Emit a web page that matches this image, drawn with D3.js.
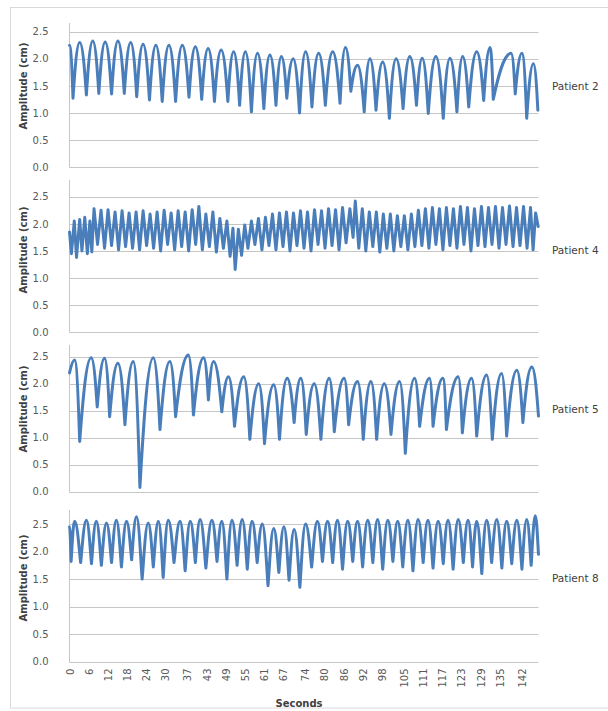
<!DOCTYPE html>
<html><head><meta charset="utf-8">
<script src="https://cdn.jsdelivr.net/npm/d3@7"></script>
<style>html,body{margin:0;padding:0;background:#fff;} svg{display:block;}</style>
</head><body>
<svg id="chart" width="608" height="711"></svg>
<script>
// ---------- DATA ----------
const patientNames = ["Patient 2", "Patient 4", "Patient 5", "Patient 8"];
const yTicks = [0, 0.5, 1.0, 1.5, 2.0, 2.5];
const xTickLabels = [0, 6, 12, 18, 24, 30, 37, 43, 49, 55, 61, 67, 74, 80, 86, 92, 98, 105, 111, 117, 123, 129, 135, 142];

const p2Time = [0,1.1,3.2,5.3,7.3,9.2,11.2,13.2,15.2,17.2,19.2,21.1,23.1,25.1,27.1,29.1,31.2,33.3,35.4,37.5,39.5,41.5,43.5,45.5,47.6,49.7,51.5,53.4,55.2,57.1,59.0,61.0,62.9,64.8,66.5,68.2,70.2,72.2,74.1,76.1,78.2,80.3,82.6,84.9,86.6,88.3,90.4,92.5,94.3,96.2,98.3,100.4,102.5,104.7,106.8,108.9,110.7,112.6,115.0,117.3,119.4,121.6,123.4,125.3,127.8,130.0,132.0,133.0,138.6,139.9,142.0,143.5,145.6,147.0];
const p2Amp = [2.25,1.27,2.30,1.33,2.33,1.36,2.31,1.35,2.33,1.36,2.30,1.30,2.27,1.24,2.25,1.21,2.25,1.21,2.25,1.29,2.22,1.25,2.19,1.21,2.16,1.21,2.13,1.14,2.13,1.02,2.10,1.08,2.07,1.14,2.04,1.27,2.00,1.00,2.13,1.11,2.10,1.14,2.13,1.18,2.21,1.40,1.88,1.02,2.00,1.05,1.94,0.90,2.00,1.08,2.04,1.14,2.01,0.99,2.04,0.90,2.01,1.02,2.04,1.11,2.13,1.23,2.21,1.25,2.10,1.35,2.10,0.90,1.91,1.05];

const p4Time = [0,0.6,1.5,2.2,3.2,3.9,4.8,5.6,6.4,7.0,7.7,8.8,9.9,11.0,12.1,13.2,14.3,15.4,16.5,17.6,18.7,19.8,20.9,22.0,23.1,24.2,25.3,26.4,27.5,28.6,29.7,30.8,31.9,33.0,34.1,35.2,36.3,37.4,38.5,39.6,40.6,41.7,42.8,43.9,45.0,46.1,47.2,48.3,49.4,50.4,51.3,52.0,53.0,54.0,55.0,56.0,57.1,58.2,59.3,60.4,61.5,62.6,63.7,64.8,65.9,67.0,68.1,69.2,70.3,71.4,72.5,73.6,74.7,75.8,76.9,78.0,79.1,80.2,81.3,82.4,83.5,84.6,85.7,86.8,88.0,89.0,89.7,90.8,91.9,93.0,94.1,95.2,96.3,97.4,98.5,99.6,100.7,101.8,102.9,104.0,105.1,106.2,107.3,108.4,109.5,110.6,111.7,112.8,113.9,115.0,116.1,117.2,118.3,119.4,120.5,121.6,122.7,123.8,124.9,126.0,127.1,128.2,129.3,130.4,131.5,132.6,133.7,134.8,135.9,137.0,138.1,139.2,140.3,141.4,142.5,143.6,144.7,145.5,146.3,147.1];
const p4Amp = [1.85,1.45,2.05,1.38,2.08,1.50,2.12,1.45,2.05,1.48,2.28,1.62,2.25,1.55,2.26,1.60,2.22,1.52,2.24,1.58,2.20,1.55,2.22,1.52,2.24,1.60,2.18,1.55,2.22,1.50,2.25,1.62,2.20,1.52,2.24,1.58,2.22,1.50,2.26,1.62,2.32,1.52,2.18,1.58,2.22,1.48,2.10,1.55,2.05,1.40,1.92,1.16,1.90,1.42,1.98,1.55,2.05,1.62,2.10,1.52,2.12,1.60,2.18,1.52,2.20,1.58,2.22,1.50,2.20,1.60,2.24,1.55,2.22,1.50,2.26,1.62,2.24,1.55,2.28,1.60,2.26,1.52,2.30,1.65,2.28,1.75,2.42,1.55,2.28,1.50,2.22,1.58,2.22,1.48,2.18,1.55,2.18,1.50,2.15,1.58,2.15,1.52,2.18,1.58,2.25,1.60,2.28,1.55,2.30,1.62,2.28,1.52,2.30,1.60,2.28,1.55,2.32,1.62,2.30,1.50,2.28,1.60,2.32,1.58,2.30,1.62,2.32,1.55,2.30,1.62,2.33,1.58,2.30,1.60,2.32,1.55,2.30,1.52,2.20,1.95];

const p5Time = [0,1.6,3.2,6.8,8.7,11.0,12.6,15.2,17.4,20.0,22.1,26.3,28.4,31.5,33.3,37.3,38.9,42.1,43.6,45.2,47.8,49.9,51.8,54.7,56.6,59.4,61.2,64.1,65.9,68.3,70.5,72.6,74.3,76.8,78.9,81.5,83.1,86.2,87.6,90.4,92.2,94.6,96.4,98.8,100.9,103.6,105.4,108.3,109.9,113.0,114.1,117.2,118.3,122.0,123.3,126.2,127.8,130.9,132.7,135.6,137.2,140.4,142.3,145.1,147.2];
const p5Amp = [2.20,2.44,0.93,2.48,1.57,2.47,1.39,2.38,1.24,2.41,0.08,2.48,1.15,2.41,1.39,2.53,1.42,2.48,1.70,2.41,1.48,2.13,1.21,2.13,0.97,2.00,0.89,1.98,0.97,2.10,1.28,2.10,1.06,2.00,0.97,2.10,1.11,2.10,1.24,2.04,0.97,2.04,0.97,2.00,1.06,2.04,0.71,2.10,1.21,2.10,1.21,2.10,1.15,2.13,1.09,2.10,1.03,2.16,0.97,2.19,1.03,2.25,1.28,2.31,1.40];

const p8Time = [0,0.5,1.6,3.5,5.3,6.9,8.4,10.0,11.6,13.2,14.7,16.3,17.9,19.5,21.0,22.8,24.7,26.3,27.9,29.4,31.0,32.8,34.7,36.3,37.9,39.5,41.0,42.8,44.7,46.3,47.8,49.4,51.0,52.6,54.2,55.8,57.3,58.9,60.5,62.3,64.1,65.7,67.3,68.9,70.5,72.3,74.1,76.0,77.8,79.4,81.0,82.6,84.1,85.7,87.3,88.9,90.4,92.0,93.6,95.2,96.7,98.3,99.9,101.5,103.0,104.6,106.2,107.8,109.4,111.0,112.5,114.1,115.7,117.3,118.8,120.4,122.0,123.6,125.1,126.5,127.8,129.4,130.9,132.5,134.1,135.7,137.2,138.8,140.4,142.0,143.5,144.9,146.2,147.2];
const p8Amp = [2.45,1.82,2.55,1.80,2.57,1.78,2.55,1.75,2.52,1.80,2.57,1.72,2.55,1.85,2.63,1.50,2.52,1.72,2.55,1.53,2.57,1.80,2.55,1.65,2.55,1.80,2.58,1.70,2.57,1.82,2.55,1.50,2.57,1.75,2.58,1.68,2.55,1.80,2.50,1.38,2.42,1.62,2.45,1.48,2.40,1.35,2.50,1.72,2.55,1.82,2.55,1.80,2.57,1.68,2.55,1.82,2.55,1.72,2.57,1.80,2.58,1.68,2.57,1.82,2.55,1.72,2.57,1.65,2.58,1.80,2.57,1.70,2.55,1.78,2.57,1.68,2.58,1.80,2.57,1.72,2.55,1.60,2.57,1.80,2.58,1.70,2.55,1.78,2.57,1.68,2.58,1.75,2.65,1.95];

const seriesTimes = [p2Time, p4Time, p5Time, p8Time];
const seriesAmps = [p2Amp, p4Amp, p5Amp, p8Amp];

// ---------- CURVE: rounded crests, pointed dips ----------
function CuspCurve(context, k, h) { this._context = context; this._k = k; this._h = h; }
CuspCurve.prototype = {
  areaStart() { this._line = 0; }, areaEnd() { this._line = NaN; },
  lineStart() { this._pts = []; },
  lineEnd() {
    const p = this._pts, c = this._context, k = this._k, h = this._h;
    if (!p.length) return;
    c.moveTo(p[0][0], p[0][1]);
    for (let i = 1; i < p.length; i++) {
      const a = p[i - 1], b = p[i], dx = b[0] - a[0], dy = b[1] - a[1];
      if (dy < 0) {
        c.bezierCurveTo(a[0] + dx * 0.22, a[1] + dy * k, b[0] - dx * h, b[1], b[0], b[1]);
      } else {
        c.bezierCurveTo(a[0] + dx * h, a[1], b[0] - dx * 0.22, b[1] - dy * k, b[0], b[1]);
      }
    }
  },
  point(x, y) { this._pts.push([+x, +y]); }
};
const cuspCurve = (k, h) => ctx => new CuspCurve(ctx, k, h);
const panelCurves = [cuspCurve(0.4, 0.45), d3.curveLinear, cuspCurve(0.4, 0.45), cuspCurve(0.25, 0.45)];

// ---------- LAYOUT ----------
const W = 608, H = 711;
const plotLeft = 69.5, plotRight = 538.5;
const panels = [
  { y0: 167, y25: 31.7, top: 23, mid: 86 },
  { y0: 332.3, y25: 196.7, top: 180, mid: 250 },
  { y0: 491.7, y25: 356.7, top: 345, mid: 409 },
  { y0: 661.7, y25: 524, top: 510, mid: 578 }
];
const font = "'DejaVu Sans', Verdana, sans-serif";
const lineColor = "#4a7ebb";
const gridColor = "#c6c6c6";

const svg = d3.select("#chart");
svg.append("rect").attr("width", W).attr("height", H).attr("fill", "#fff");
svg.append("rect").attr("x", 10.5).attr("y", 7.5).attr("width", 620).attr("height", 700.5)
  .attr("fill", "none").attr("stroke", "#d9d9d9");

const x = d3.scaleLinear().domain([0, 147.2]).range([plotLeft, plotRight]);

panels.forEach((P, i) => {
  const y = d3.scaleLinear().domain([0, 2.5]).range([P.y0, P.y25]);
  const g = svg.append("g");

  g.selectAll("line.grid").data(yTicks).join("line")
    .attr("class", "grid")
    .attr("x1", plotLeft).attr("x2", plotRight)
    .attr("y1", d => Math.round(y(d)) + 0.5).attr("y2", d => Math.round(y(d)) + 0.5)
    .attr("stroke", gridColor).attr("stroke-width", 1);

  g.append("line").attr("x1", plotLeft).attr("x2", plotLeft)
    .attr("y1", P.top).attr("y2", Math.round(P.y0) + 0.5)
    .attr("stroke", gridColor).attr("stroke-width", 1);

  const yAxis = d3.axisLeft(y).tickValues(yTicks).tickFormat(d3.format(".1f")).tickSize(0).tickPadding(21);
  const ya = g.append("g").attr("transform", `translate(${plotLeft},0)`).call(yAxis);
  ya.select(".domain").remove();
  ya.selectAll("text").attr("font-family", font).attr("font-size", 10).attr("fill", "#595959");

  const data = d3.zip(seriesTimes[i], seriesAmps[i]);
  const line = d3.line().x(d => x(d[0])).y(d => y(d[1])).curve(panelCurves[i]);
  g.append("path").datum(data).attr("d", line)
    .attr("fill", "none").attr("stroke", lineColor).attr("stroke-width", 3)
    .attr("stroke-linejoin", "round").attr("stroke-linecap", "round");

  g.append("text")
    .attr("transform", `translate(23,${P.mid}) rotate(-90)`)
    .attr("text-anchor", "middle").attr("dominant-baseline", "central")
    .attr("font-family", font).attr("font-weight", "bold").attr("font-size", 10)
    .attr("fill", "#404040").text("Amplitude (cm)");

  g.append("text").attr("x", 552).attr("y", P.mid)
    .attr("dominant-baseline", "central")
    .attr("font-family", font).attr("font-size", 10.5).attr("fill", "#404040")
    .text(patientNames[i]);

  if (i === panels.length - 1) {
    const xAxis = d3.axisBottom(x).tickValues(xTickLabels).tickFormat(d3.format("d")).tickSize(0);
    const xa = g.append("g").attr("transform", `translate(0,${Math.round(P.y0) + 0.5})`).call(xAxis);
    xa.select(".domain").remove();
    xa.selectAll("text")
      .attr("transform", "rotate(-90)")
      .attr("x", -6).attr("y", 0).attr("dy", "0.35em")
      .attr("text-anchor", "end")
      .attr("font-family", font).attr("font-size", 10).attr("fill", "#595959");
    g.append("text").attr("x", 299).attr("y", 703)
      .attr("text-anchor", "middle").attr("dominant-baseline", "central")
      .attr("font-family", font).attr("font-weight", "bold").attr("font-size", 10)
      .attr("fill", "#404040").text("Seconds");
  }
});
</script>
</body></html>
